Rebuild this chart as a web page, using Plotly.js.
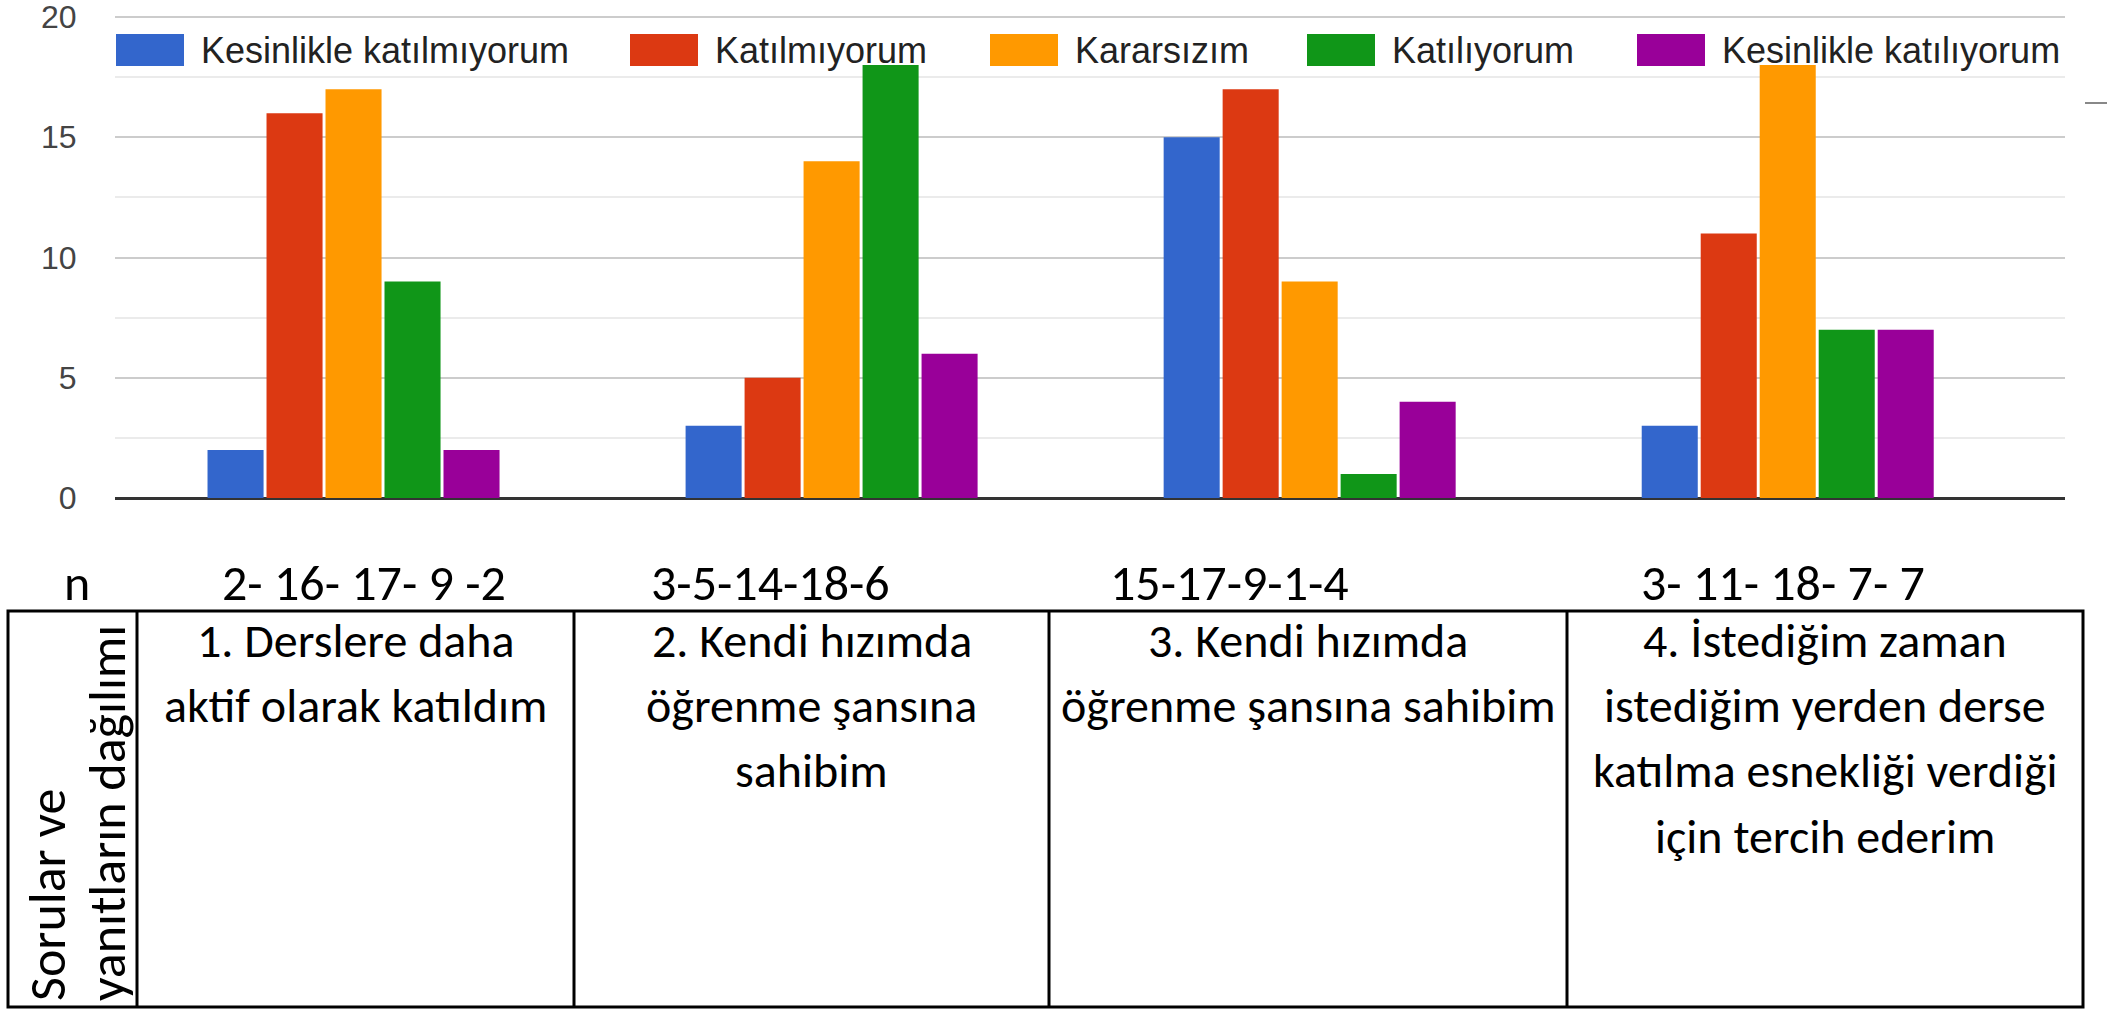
<!DOCTYPE html>
<html>
<head>
<meta charset="utf-8">
<script src="https://cdn.plot.ly/plotly-3.0.1.min.js"></script>
<style>html,body{margin:0;padding:0;background:#fff;}#chart{width:2107px;height:1009px;}</style>
</head>
<body>
<div id="chart"></div>
<script>
// ---- data ----
const categories = ["Q1", "Q2", "Q3", "Q4"];
const seriesNames = ["Kesinlikle katılmıyorum", "Katılmıyorum", "Kararsızım", "Katılıyorum", "Kesinlikle katılıyorum"];
const kesinlikleKatilmiyorum = [2, 3, 15, 3];
const katilmiyorum = [16, 5, 17, 11];
const kararsizim = [17, 14, 9, 18];
const katiliyorum = [9, 18, 1, 7];
const kesinlikleKatiliyorum = [2, 6, 4, 7];
const nLabels = ["2- 16- 17- 9 -2", "3-5-14-18-6", "15-17-9-1-4", "3- 11- 18- 7- 7"];
const questions = [
  "1. Derslere daha<br>aktif olarak katıldım",
  "2. Kendi hızımda<br>öğrenme şansına<br>sahibim",
  "3. Kendi hızımda<br>öğrenme şansına sahibim",
  "4. İstediğim zaman<br>istediğim yerden derse<br>katılma esnekliği verdiği<br>için tercih ederim"
];
const rowHeaderLines = ["Sorular ve", "yanıtların dağılımı"];
const nHeader = "n";
const yTicks = [0, 5, 10, 15, 20];

// ---- styles / positions ----
const colors = ["#3366cc", "#dc3912", "#ff9900", "#109618", "#990099"];
const W = 2107, H = 1009;
const px = x => x / W;
const py = y => 1 - y / H;
const tableFont = "Carlito, Calibri, 'Open Sans', sans-serif";
const chartFont = "Arial, 'Liberation Sans', sans-serif";
const legendSwatchX = [116, 630, 990, 1307, 1637];
const nLabelX = [364, 770, 1229, 1783];
const colEdges = [8, 137, 574, 1049, 1567, 2083];
const rowHeaderX = [47, 107];
const tableTop = 611, tableBottom = 1007;
const lineY0 = 640, lineStep = 65.4;

const seriesValues = [kesinlikleKatilmiyorum, katilmiyorum, kararsizim, katiliyorum, kesinlikleKatiliyorum];
const traces = seriesValues.map((vals, i) => ({
  type: "bar",
  name: seriesNames[i],
  x: categories.map((c, k) => k),
  y: vals,
  marker: {color: colors[i], line: {width: 0}},
  hoverinfo: "name+y"
}));

const shapes = [];
const annotations = [];

// custom legend
seriesNames.forEach((name, i) => {
  const x0 = legendSwatchX[i];
  shapes.push({type: "rect", xref: "paper", yref: "paper", x0: px(x0), x1: px(x0 + 68), y0: py(66), y1: py(34),
    fillcolor: colors[i], line: {width: 0}});
  annotations.push({xref: "paper", yref: "paper", x: px(x0 + 83), y: py(50), xanchor: "left", yanchor: "middle",
    text: name, showarrow: false, font: {family: chartFont, size: 36, color: "#222222"}});
});

// stray short line at right edge
shapes.push({type: "line", xref: "paper", yref: "paper", x0: px(2085), x1: px(2107), y0: py(103), y1: py(103),
  line: {color: "#888888", width: 2}});

// n row
annotations.push({xref: "paper", yref: "paper", x: px(77), y: py(582), xanchor: "center", yanchor: "middle",
  text: nHeader, showarrow: false, font: {family: tableFont, size: 50, color: "#000"}});
nLabels.forEach((t, i) => {
  annotations.push({xref: "paper", yref: "paper", x: px(nLabelX[i]), y: py(582), xanchor: "center", yanchor: "middle",
    text: t, showarrow: false, font: {family: tableFont, size: 50, color: "#000"}});
});

// table
shapes.push({type: "rect", xref: "paper", yref: "paper", x0: px(colEdges[0]), x1: px(colEdges[5]),
  y0: py(tableBottom), y1: py(tableTop), line: {color: "#000", width: 3}});
for (let k = 1; k < colEdges.length - 1; k++) {
  shapes.push({type: "line", xref: "paper", yref: "paper", x0: px(colEdges[k]), x1: px(colEdges[k]),
    y0: py(tableBottom), y1: py(tableTop), line: {color: "#000", width: 3}});
}
rowHeaderLines.forEach((line, j) => {
  annotations.push({xref: "paper", yref: "paper", x: px(rowHeaderX[j]), y: py(1003), xanchor: "center", yanchor: "bottom",
    text: line, textangle: -90, showarrow: false,
    font: {family: tableFont, size: 52, color: "#000"}});
});
questions.forEach((q, i) => {
  const cx = (colEdges[i + 1] + colEdges[i + 2]) / 2;
  q.split("<br>").forEach((line, j) => {
    annotations.push({xref: "paper", yref: "paper", x: px(cx), y: py(lineY0 + j * lineStep), xanchor: "center", yanchor: "middle",
      text: line, showarrow: false, font: {family: tableFont, size: 48, color: "#000"}});
  });
});

const layout = {
  width: W, height: H,
  margin: {l: 0, r: 0, t: 0, b: 0},
  paper_bgcolor: "#ffffff", plot_bgcolor: "#ffffff",
  showlegend: false,
  barmode: "group",
  bargap: 0.383,
  bargroupgap: 0.05,
  xaxis: {domain: [px(114.5), px(2065)], range: [-0.5, 3.58], showticklabels: false, showgrid: false,
    zeroline: false, showline: false, ticks: "", fixedrange: true},
  yaxis: {domain: [py(498), py(14.6)], range: [0, 20.1], tickvals: yTicks, ticktext: yTicks.map(String),
    showgrid: true, gridcolor: "#cccccc", gridwidth: 2,
    minor: {dtick: 2.5, showgrid: true, gridcolor: "#ebebeb", gridwidth: 2},
    zeroline: true, zerolinecolor: "#333333", zerolinewidth: 3,
    showline: false, ticks: "", ticklabelstandoff: 37, ticklabeloverflow: "allow",
    tickfont: {family: chartFont, size: 32, color: "#444444"}, fixedrange: true},
  shapes: shapes,
  annotations: annotations
};

Plotly.newPlot("chart", traces, layout, {displayModeBar: false, staticPlot: true});
</script>
</body>
</html>
